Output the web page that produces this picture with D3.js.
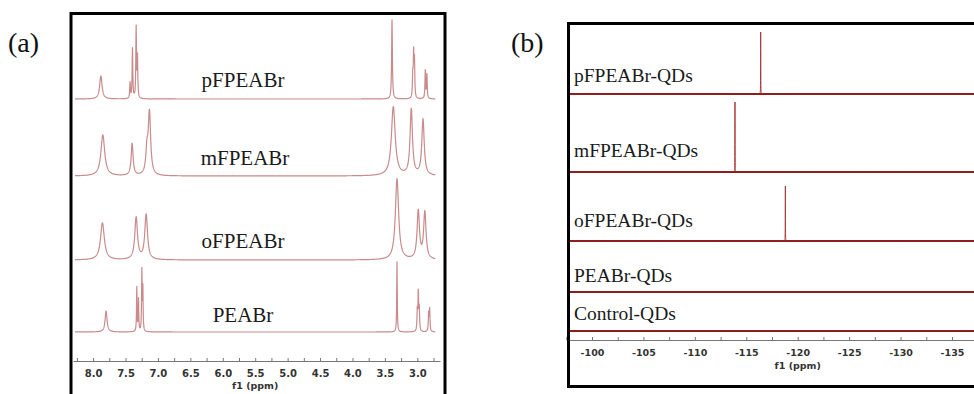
<!DOCTYPE html>
<html><head><meta charset="utf-8">
<script src="https://cdn.jsdelivr.net/npm/d3@7"></script>
<style>body{margin:0;background:#fff}svg{display:block}</style>
</head><body><svg id="c" width="974" height="394"></svg>
<script>
// ---------- DATA ----------
// Panel (a): 1H NMR, peaks as [ppm, intensity, half-width (ppm)]
const namesA = ["pFPEABr", "mFPEABr", "oFPEABr", "PEABr"];
const offsetsA = [262, 185, 101, 29];             // stacking offsets (intensity units)
const peaks_pFPEABr = [[7.88,23,0.022],[7.43,16,0.006],[7.393,50,0.006],[7.336,70,0.006],[7.316,40,0.006],
                       [3.39,79,0.007],[3.07,22,0.006],[3.057,42,0.006],[3.044,36,0.006],[2.877,28,0.006],[2.852,24,0.006]];
const peaks_mFPEABr = [[7.85,41,0.035],[7.398,32,0.018],[7.17,22,0.02],[7.131,62,0.022],
                       [3.37,69,0.035],[3.093,66,0.022],[2.912,56,0.022]];
const peaks_oFPEABr = [[7.856,37,0.035],[7.336,42,0.025],[7.182,45,0.025],
                       [3.313,81,0.03],[2.985,48,0.022],[2.884,47,0.022]];
const peaks_PEABr   = [[7.80,21,0.018],[7.326,44,0.005],[7.30,32,0.005],[7.248,60,0.005],[7.233,42,0.005],
                       [3.313,70,0.005],[3.00,20,0.006],[2.985,37,0.006],[2.97,22,0.006],[2.825,18,0.006],[2.81,22,0.006]];
const peaksA = [peaks_pFPEABr, peaks_mFPEABr, peaks_oFPEABr, peaks_PEABr];
const ticksA = [8.0,7.5,7.0,6.5,6.0,5.5,5.0,4.5,4.0,3.5,3.0];

// Panel (b): 19F NMR
const namesB = ["pFPEABr-QDs", "mFPEABr-QDs", "oFPEABr-QDs", "PEABr-QDs", "Control-QDs"];
const offsetsB = [246, 168, 99, 48, 9];
const peaksB = [[[-116.4,62,0.008]], [[-113.9,70,0.008]], [[-118.8,55,0.008]], [], []];
const ticksB = [-100,-105,-110,-115,-120,-125,-130,-135];

// ---------- DRAW ----------
const svg = d3.select("#c");
const lor = (pk, v) => d3.sum(pk, p => p[1]*p[2]*p[2]/((v-p[0])*(v-p[0]) + p[2]*p[2]));

// ===== Panel (a) =====
const xA = d3.scaleLinear().domain([8.31, 2.65]).range([73, 440]);
const yA = d3.scaleLinear().domain([0, 350]).range([361, 11]);

svg.append("text").attr("x", 8).attr("y", 52)
  .style("font-family","'Liberation Serif','Times New Roman',serif").style("font-size","28px").attr("fill","#111").text("(a)");

const gA = svg.append("g");
peaksA.forEach((pk, i) => {
  let pts = d3.range(8.28, 2.72, -0.002).concat(pk.map(p => p[0])).sort((a,b) => b-a);
  const line = d3.line().x(v => xA(v)).y(v => yA(offsetsA[i] + lor(pk, v)));
  gA.append("path").attr("d", line(pts)).attr("fill","none")
    .attr("stroke","#c98b8b").attr("stroke-width",1.2).attr("stroke-linejoin","round");
});
const labA = [[243, 87],[245, 165],[243, 248],[243, 322]];
namesA.forEach((n, i) => {
  svg.append("text").attr("x", labA[i][0]).attr("y", labA[i][1]).attr("text-anchor","middle")
    .style("font-family","'Liberation Serif','Times New Roman',serif").style("font-size","21px")
    .attr("fill","#1a1a1a").text(n);
});

const axA = svg.append("g").attr("transform","translate(0,361)")
  .call(d3.axisBottom(xA).tickValues(ticksA).tickFormat(d3.format(".1f")).tickSize(0).tickPadding(9));
axA.select(".domain").attr("stroke","#777");
axA.selectAll("text").style("font-family","'DejaVu Sans',Verdana,sans-serif").style("font-size","10px")
  .style("font-weight","bold").attr("fill","#333");
svg.append("g").attr("transform","translate(0,361)")
  .call(d3.axisBottom(xA).tickValues(d3.range(8.25, 2.7, -0.25)).tickFormat("").tickSize(-3))
  .call(g => g.select(".domain").remove()).selectAll("line").attr("stroke","#777");
svg.append("text").attr("x", xA(5.5)).attr("y", 389).attr("text-anchor","middle")
  .style("font-family","'DejaVu Sans',Verdana,sans-serif").style("font-size","9.5px").style("font-weight","bold")
  .attr("fill","#333").text("f1 (ppm)");

svg.append("rect").attr("x", 71).attr("y", 13.5).attr("width", 374).attr("height", 390)
  .attr("fill","none").attr("stroke","#000").attr("stroke-width",3);

// ===== Panel (b) =====
const xB = d3.scaleLinear().domain([-97.5, -140]).range([566.3, 1003.4]);
const yB = d3.scaleLinear().domain([0, 350]).range([340, -10]);

svg.append("text").attr("x", 511).attr("y", 52)
  .style("font-family","'Liberation Serif','Times New Roman',serif").style("font-size","28px").attr("fill","#111").text("(b)");

const gB = svg.append("g");
peaksB.forEach((pk, i) => {
  gB.append("line").attr("x1", xB(-97.8)).attr("x2", 980)
    .attr("y1", yB(offsetsB[i])).attr("y2", yB(offsetsB[i]))
    .attr("stroke","#8e1c1c").attr("stroke-width",2.2);
  if (pk.length) {
    let pts = d3.range(-97.8, -139, -0.005).concat(pk.map(p => p[0])).sort((a,b) => b-a);
    const line = d3.line().x(v => xB(v)).y(v => yB(offsetsB[i] + lor(pk, v)));
    gB.append("path").attr("d", line(pts)).attr("fill","none")
      .attr("stroke","#a83a3a").attr("stroke-width",1);
  }
});
const labB = [82, 157, 227, 282, 320];
namesB.forEach((n, i) => {
  svg.append("text").attr("x", 574).attr("y", labB[i])
    .style("font-family","'Liberation Serif','Times New Roman',serif").style("font-size","19.5px")
    .attr("fill","#1a1a1a").text(n);
});

const axB = svg.append("g").attr("transform","translate(0,340)")
  .call(d3.axisBottom(xB).tickValues(ticksB).tickFormat(d => String(d)).tickSize(0).tickPadding(9));
axB.select(".domain").attr("stroke","#777");
axB.selectAll("text").style("font-family","'DejaVu Sans',Verdana,sans-serif").style("font-size","9.5px")
  .style("font-weight","bold").attr("fill","#333");
svg.append("g").attr("transform","translate(0,340)")
  .call(d3.axisBottom(xB).tickValues(d3.range(-97.5, -140, -2.5)).tickFormat("").tickSize(-3))
  .call(g => g.select(".domain").remove()).selectAll("line").attr("stroke","#777");
svg.append("text").attr("x", xB(-120)).attr("y", 369).attr("text-anchor","middle")
  .style("font-family","'DejaVu Sans',Verdana,sans-serif").style("font-size","9.5px").style("font-weight","bold")
  .attr("fill","#333").text("f1 (ppm)");

svg.append("rect").attr("x", 568.5).attr("y", 23.5).attr("width", 420).attr("height", 363)
  .attr("fill","none").attr("stroke","#000").attr("stroke-width",3);
</script></body></html>
